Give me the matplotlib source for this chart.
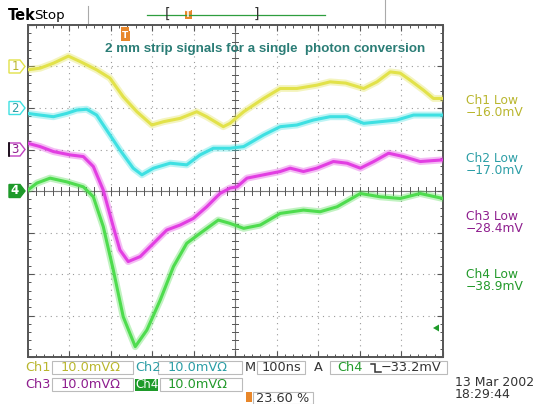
import matplotlib
matplotlib.use("Agg")
import matplotlib.pyplot as plt
from matplotlib.patches import Polygon, Rectangle

# ---------------- data (time in ns, signal in mV, 10 mV/div) ----------------
ch1_t = [0, 30, 62, 98, 126, 166, 198, 230, 263, 299, 327, 367, 407, 431, 471, 487,
         520, 568, 608, 648, 696, 728, 766, 809, 841, 873, 897, 921, 953, 977, 1000]
ch1_v = [-0.8, -0.4, 0.8, 2.5, 1.2, -0.8, -2.8, -7.3, -10.9, -14.1, -13.3, -12.5, -10.9,
         -12.1, -14.5, -13.7, -10.9, -7.7, -5.3, -5.3, -4.5, -3.7, -4.0, -5.3, -3.7, -1.3,
         -1.6, -3.3, -5.7, -7.7, -7.7]

ch2_t = [0, 30, 62, 94, 118, 142, 166, 190, 222, 254, 275, 303, 343, 383, 415, 447, 487,
         520, 568, 608, 648, 688, 728, 769, 809, 849, 889, 929, 969, 1000]
ch2_v = [-1.3, -1.7, -2.1, -1.3, -0.5, -0.3, -1.7, -5.3, -10.1, -14.5, -16.1, -14.5, -13.3,
         -13.7, -11.3, -9.7, -9.7, -9.3, -6.5, -4.5, -4.1, -2.9, -2.1, -2.1, -3.7, -3.3,
         -2.9, -1.7, -1.7, -1.7]

ch3_t = [0, 30, 62, 102, 134, 158, 182, 206, 222, 242, 271, 303, 335, 367, 399, 431, 463,
         487, 504, 528, 568, 608, 632, 664, 696, 736, 769, 801, 833, 869, 905, 945, 1000]
ch3_v = [1.5, 0.7, -0.5, -1.3, -1.7, -4.1, -9.8, -18.6, -24.2, -27.0, -25.8, -22.6, -19.4,
         -18.2, -16.6, -13.8, -10.6, -9.3, -9.0, -6.9, -6.1, -5.3, -4.5, -5.3, -4.5, -2.9,
         -3.3, -4.5, -2.9, -0.9, -1.7, -2.9, -2.5]

ch4_t = [0, 22, 54, 94, 134, 158, 182, 206, 230, 259, 287, 319, 351, 383, 415, 459, 487,
         520, 560, 608, 664, 704, 745, 801, 849, 897, 945, 1000]
ch4_v = [0.2, 1.9, 3.1, 2.2, 1.0, -1.4, -8.6, -19.0, -30.3, -37.5, -33.5, -26.3, -18.2,
         -12.6, -10.2, -7.0, -7.8, -9.0, -8.2, -5.4, -4.6, -5.0, -3.8, -0.6, -1.4, -1.8,
         -0.6, -1.8]

offsets = [30, 20, 10, 0]            # screen position of each channel ground, mV
channels = ["Ch1", "Ch2", "Ch3", "Ch4"]
lows = ["\u221216.0mV", "\u221217.0mV", "\u221228.4mV", "\u221238.9mV"]
title = "2 mm strip signals for a single  photon conversion"

trace_cols = ["#E2E24A", "#3EE0E2", "#E23EE2", "#4EDC4E"]
text_cols = ["#B9B62E", "#2C9EA6", "#8E1E8E", "#239A2B"]

W, H = 538, 404
L, R, T, B = 27.7, 443.0, 25.0, 357.0

fig = plt.figure(figsize=(W / 100, H / 100), dpi=100)
fig.patch.set_facecolor("white")
ax = fig.add_axes([L / W, 1 - B / H, (R - L) / W, (B - T) / H])
ax.set_xlim(0, 1000)
ax.set_ylim(-40, 40)
ax.set_facecolor("white")

# grid (dotted)
for x in range(100, 1000, 100):
    ax.axvline(x, color="#999999", lw=0.8, ls=(0, (1, 4)), zorder=1)
for y in range(-30, 40, 10):
    ax.axhline(y, color="#999999", lw=0.8, ls=(0, (1, 4)), zorder=1)
# center cross with minor ticks
ax.axhline(0, color="#777777", lw=0.8, zorder=1)
ax.axvline(500, color="#777777", lw=0.8, zorder=1)
for i in range(51):
    x = i * 20
    ax.plot([x, x], [-0.9, 0.9], color="#555555", lw=0.7, zorder=1)
for i in range(41):
    y = -40 + i * 2
    ax.plot([493, 507], [y, y], color="#555555", lw=0.7, zorder=1)

ax.set_xticks(range(0, 1001, 100))
ax.set_xticks(range(0, 1001, 20), minor=True)
ax.set_yticks(range(-40, 41, 10))
ax.set_yticks(range(-40, 41, 2), minor=True)
ax.tick_params(which="both", direction="in", top=True, right=True,
               labelbottom=False, labelleft=False, color="#555555")
ax.tick_params(which="major", length=4, width=0.8)
ax.tick_params(which="minor", length=2.5, width=0.7)
for s in ax.spines.values():
    s.set_color("#555555")
    s.set_linewidth(1.4)

series = [(ch1_t, ch1_v), (ch2_t, ch2_v), (ch3_t, ch3_v), (ch4_t, ch4_v)]
for (t, v), off, c in zip(series, offsets, trace_cols):
    yv = [val + off for val in v]
    ax.plot(t, yv, color=c, lw=5.0, alpha=0.35, solid_joinstyle="round", zorder=3)
    ax.plot(t, yv, color=c, lw=2.2, alpha=1.0, solid_joinstyle="round", zorder=4)

# ---------------- overlay in pixel coordinates ----------------
ov = fig.add_axes([0, 0, 1, 1], zorder=5)
ov.set_xlim(0, W)
ov.set_ylim(H, 0)
ov.axis("off")
ov.patch.set_alpha(0)

ov.text(265, 49, title, color="#2B7D76", fontsize=9.6, fontweight="bold",
        family="Liberation Sans", ha="center", va="center")

# header
ov.text(8, 15, "Tek", fontsize=10.5, fontweight="bold", family="DejaVu Sans",
        ha="left", va="center", color="black")
ov.text(34, 15, "Stop", fontsize=9.6, family="DejaVu Sans", ha="left", va="center",
        color="black")
ov.plot([88, 88], [6, 23], color="#aaaaaa", lw=0.8)
ov.plot([385, 385], [0, 23], color="#aaaaaa", lw=0.8)
ov.plot([147, 325], [15, 15], color="#2E9E3E", lw=0.9)
ov.text(168, 14, "[", fontsize=10, family="DejaVu Sans", ha="center", va="center",
        color="#333333")
ov.text(256, 14, "]", fontsize=10, family="DejaVu Sans", ha="center", va="center",
        color="#333333")
ov.add_patch(Rectangle((184.5, 10), 7, 9, facecolor="#E8872A", edgecolor="none"))
ov.text(188, 14.5, "T", fontsize=6, color="white", ha="center", va="center",
        fontweight="bold")

# trigger position marker
ov.add_patch(Rectangle((121, 27), 8, 4, facecolor="#E8872A", edgecolor="none"))
ov.add_patch(Rectangle((120.5, 31), 9, 10, facecolor="#E8872A", edgecolor="none"))
ov.text(125, 36, "T", fontsize=6.5, color="white", ha="center", va="center",
        fontweight="bold")

# channel ground markers
def ypix(mv):
    return T + (40 - mv) / 80 * (B - T)

for k, (off, c, tc) in enumerate(zip(offsets, trace_cols, text_cols)):
    y = ypix(off)
    pts = [(9, y - 6.5), (20, y - 6.5), (25, y), (20, y + 6.5), (9, y + 6.5)]
    if k == 3:
        ov.add_patch(Polygon(pts, closed=True, facecolor="#1E9A2A", edgecolor="#1E9A2A"))
        ov.text(15, y, str(k + 1), fontsize=8.5, color="white", fontweight="bold",
                ha="center", va="center")
    else:
        ec = c if k < 2 else "#C040C0"
        ov.add_patch(Polygon(pts, closed=True, facecolor="white", edgecolor=ec, lw=1.0))
        if k == 2:
            ov.plot([9, 9], [y - 6.5, y + 6.5], color="black", lw=1.2)
        ov.text(15, y, str(k + 1), fontsize=8.5, color=tc, ha="center", va="center")

# trigger level arrow
ov.add_patch(Polygon([(433, 328), (439, 324.5), (439, 331.5)], closed=True,
                     facecolor="#1E9A2A", edgecolor="none"))

# right-hand readouts
label_y = [100, 158, 216, 275]
for name, low, tc, y in zip(channels, lows, text_cols, label_y):
    ov.text(466, y, name + " Low", fontsize=8.8, color=tc, family="DejaVu Sans",
            ha="left", va="center")
    ov.text(466, y + 12, low, fontsize=8.8, color=tc, family="DejaVu Sans",
            ha="left", va="center")

# bottom status line
fs = 9.3
box_kw = dict(facecolor="none", edgecolor="#bbbbbb", lw=0.8)
r1, r2 = 367.5, 384.5
ov.add_patch(Rectangle((52, r1 - 6.5), 81, 13, **box_kw))
ov.add_patch(Rectangle((158, r1 - 6.5), 84, 13, **box_kw))
ov.add_patch(Rectangle((257, r1 - 6.5), 48, 13, **box_kw))
ov.add_patch(Rectangle((330, r1 - 6.5), 117, 13, **box_kw))
ov.add_patch(Rectangle((52, r2 - 6.5), 81, 13, **box_kw))
ov.add_patch(Rectangle((160, r2 - 6.5), 82, 13, **box_kw))
ov.text(25, r1, "Ch1", fontsize=fs, color=text_cols[0], ha="left", va="center")
ov.text(61, r1, "10.0mV\u03a9", fontsize=fs, color=text_cols[0], ha="left", va="center")
ov.text(135, r1, "Ch2", fontsize=fs, color=text_cols[1], ha="left", va="center")
ov.text(168, r1, "10.0mV\u03a9", fontsize=fs, color=text_cols[1], ha="left", va="center")
ov.text(245, r1, "M", fontsize=fs, color="#333333", ha="left", va="center")
ov.text(262, r1, "100ns", fontsize=fs, color="#333333", ha="left", va="center")
ov.text(314, r1, "A", fontsize=fs, color="#333333", ha="left", va="center")
ov.text(337, r1, "Ch4", fontsize=fs, color=text_cols[3], ha="left", va="center")
# falling-edge trigger slope symbol
ov.plot([370.5, 375, 375, 381], [363.5, 363.5, 371.5, 371.5], color="#333333",
        lw=1.1, solid_joinstyle="miter")
ov.text(381, r1, "\u221233.2mV", fontsize=fs, color="#333333", ha="left", va="center")
ov.text(25, r2, "Ch3", fontsize=fs, color=text_cols[2], ha="left", va="center")
ov.text(61, r2, "10.0mV\u03a9", fontsize=fs, color=text_cols[2], ha="left", va="center")
ov.add_patch(Rectangle((135, r2 - 6), 23, 12, facecolor="#1E9A2A", edgecolor="none"))
ov.text(146.5, r2, "Ch4", fontsize=8.5, color="white", ha="center", va="center")
ov.text(168, r2, "10.0mV\u03a9", fontsize=fs, color=text_cols[3], ha="left", va="center")

ov.add_patch(Rectangle((246, 392), 6, 10, facecolor="#E8872A", edgecolor="none"))
ov.add_patch(Rectangle((253, 392), 60, 12, **box_kw))
ov.text(256, 398.5, "23.60 %", fontsize=fs, color="#333333", ha="left", va="center")

ov.text(455, 382, "13 Mar 2002", fontsize=9.0, color="#333333", ha="left", va="center")
ov.text(455, 395, "18:29:44", fontsize=9.0, color="#333333", ha="left", va="center")

fig.savefig("out.png", dpi=100, facecolor="white")
